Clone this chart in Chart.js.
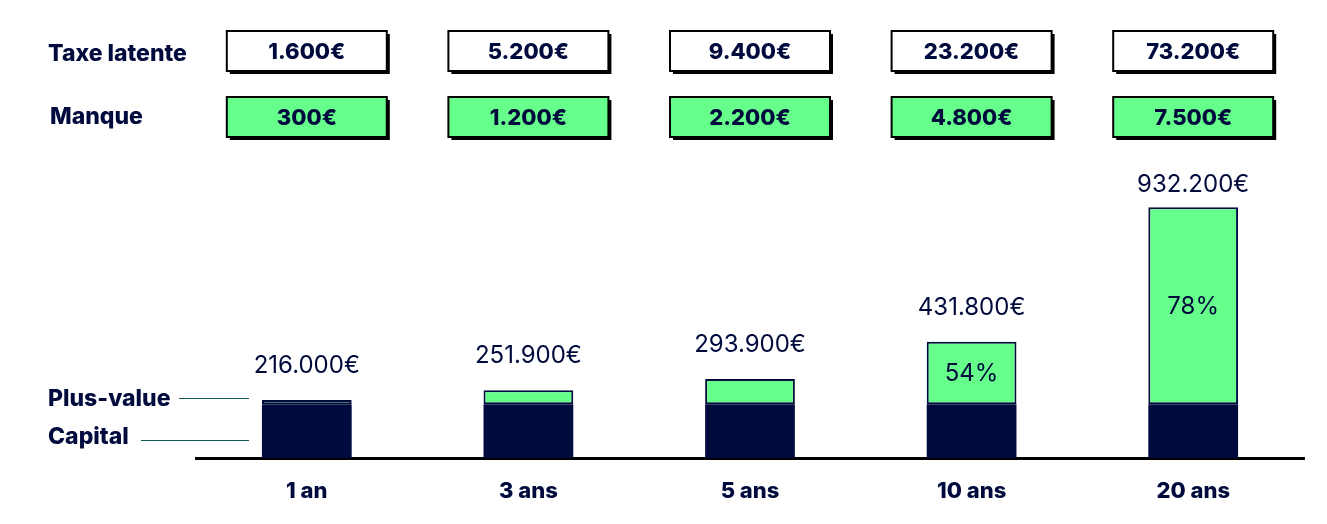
<!DOCTYPE html>
<html>
<head>
<meta charset="utf-8">
<script src="https://cdn.jsdelivr.net/npm/chart.js@4"></script>
<style>
  html, body { margin: 0; padding: 0; background: #fff; }
  #wrap { width: 1327px; height: 524px; position: relative; }
</style>
</head>
<body>
<div id="wrap"><canvas id="chart"></canvas></div>
<script>
// données
const periodes = ["1 an", "3 ans", "5 ans", "10 ans", "20 ans"];
const capital = [200000, 200000, 200000, 200000, 200000];
const plusValue = [16000, 51900, 93900, 231800, 732200];
const totaux = ["216.000€", "251.900€", "293.900€", "431.800€", "932.200€"];
const pourcentages = ["", "", "", "54%", "78%"];
const taxeLatente = ["1.600€", "5.200€", "9.400€", "23.200€", "73.200€"];
const manque = ["300€", "1.200€", "2.200€", "4.800€", "7.500€"];

const NAVY = "#000a3c";
const GREEN = "#66ff8c";
const TEAL = "#0d5a52";
const BOLD = "Inter, 'DejaVu Sans', sans-serif";
const REG = "Inter, 'Liberation Sans', sans-serif";

// boites du haut + libellés + légende à gauche
const decorPlugin = {
  id: "decor",
  afterDatasetsDraw(chart) {
    const { ctx, scales, chartArea } = chart;
    const x = scales.x;
    const top = chart.getDatasetMeta(1);

    ctx.save();
    ctx.textAlign = "center";
    ctx.textBaseline = "alphabetic";

    // total au-dessus de chaque barre
    ctx.fillStyle = NAVY;
    ctx.font = "400 24px " + REG;
    top.data.forEach((bar, i) => {
      const ty = Math.max(bar.y - 27, chartArea.top + 3);
      ctx.fillText(totaux[i], bar.x, ty);
    });

    // pourcentage dans la partie verte
    ctx.textBaseline = "middle";
    top.data.forEach((bar, i) => {
      if (!pourcentages[i]) return;
      ctx.fillText(pourcentages[i], bar.x, (bar.y + bar.base) / 2 + 1);
    });

    // boites taxe latente / manque
    const drawBox = (cx, cy, txt, fill) => {
      const w = 160, h = 40;
      const bx = cx - w / 2, by = cy - h / 2;
      ctx.fillStyle = "#000";
      ctx.fillRect(bx + 3, by + 3, w, h);
      ctx.fillStyle = fill;
      ctx.fillRect(bx, by, w, h);
      ctx.lineWidth = 2;
      ctx.strokeStyle = "#000";
      ctx.strokeRect(bx, by, w, h);
      ctx.fillStyle = NAVY;
      ctx.font = "800 22px " + BOLD;
      ctx.fillText(txt, cx, cy + 1);
    };
    periodes.forEach((p, i) => {
      const cx = x.getPixelForValue(i);
      drawBox(cx, 51, taxeLatente[i], "#fff");
      drawBox(cx, 117, manque[i], GREEN);
    });

    // libellés des lignes
    ctx.textAlign = "left";
    ctx.textBaseline = "alphabetic";
    ctx.fillStyle = NAVY;
    ctx.font = "800 23px " + BOLD;
    ctx.fillText("Taxe latente", 48, 61);
    ctx.fillText("Manque", 50, 124);

    // légende à gauche des barres
    ctx.fillText("Plus-value", 48, 406);
    ctx.fillText("Capital", 48, 444);
    ctx.strokeStyle = TEAL;
    ctx.lineWidth = 1.2;
    ctx.beginPath();
    ctx.moveTo(179, 398.5);
    ctx.lineTo(249, 398.5);
    ctx.moveTo(141, 440.5);
    ctx.lineTo(249, 440.5);
    ctx.stroke();
    ctx.restore();
  }
};

new Chart(document.getElementById("chart"), {
  type: "bar",
  data: {
    labels: periodes,
    datasets: [
      {
        label: "Capital",
        data: capital,
        backgroundColor: NAVY,
        borderColor: NAVY,
        borderWidth: 0,
        borderSkipped: false
      },
      {
        label: "Plus-value",
        data: plusValue,
        backgroundColor: GREEN,
        borderColor: NAVY,
        borderWidth: 2,
        borderSkipped: false
      }
    ]
  },
  options: {
    responsive: true,
    maintainAspectRatio: false,
    animation: false,
    devicePixelRatio: 1,
    layout: { padding: { left: 196, right: 23, top: 189, bottom: 0 } },
    plugins: {
      legend: { display: false },
      tooltip: { enabled: false }
    },
    datasets: { bar: { categoryPercentage: 1, barPercentage: 0.405 } },
    scales: {
      x: {
        stacked: true,
        grid: { display: false, drawTicks: false },
        border: { display: true, color: "#000", width: 3 },
        ticks: {
          color: NAVY,
          padding: 22,
          font: { family: BOLD, size: 22, weight: "800", lineHeight: 1 }
        }
      },
      y: {
        stacked: true,
        display: false,
        min: 0,
        max: 1000000
      }
    }
  },
  plugins: [decorPlugin]
});
</script>
</body>
</html>
